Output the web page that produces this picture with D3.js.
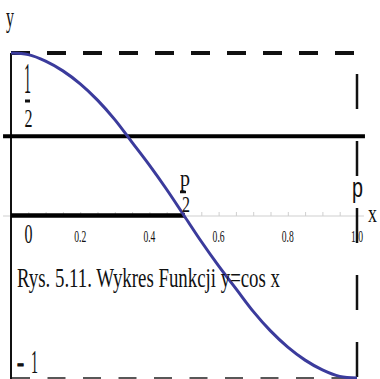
<!DOCTYPE html>
<html>
<head>
<meta charset="utf-8">
<script src="https://cdn.jsdelivr.net/npm/d3@7"></script>
<style>
  html, body { margin: 0; padding: 0; background: #fff; }
  svg { display: block; }
  text { font-family: "Liberation Serif", "Times New Roman", serif; fill: #111; }
</style>
</head>
<body>
<script>
// Sampled points of y = cos x over the plotted interval
const curveX = [0, 0.05, 0.1, 0.15, 0.2, 0.25, 0.3, 0.35, 0.4, 0.45, 0.5,
                0.55, 0.6, 0.65, 0.7, 0.75, 0.8, 0.85, 0.9, 0.95, 1.0];
const curveY = [1.00, 0.99, 0.95, 0.89, 0.81, 0.71, 0.59, 0.45, 0.31, 0.16, 0.00,
                -0.16, -0.31, -0.45, -0.59, -0.71, -0.81, -0.89, -0.95, -0.99, -1.00];

// Axis ticks
const tickValues = [0.2, 0.4, 0.6, 0.8, 1.0];
const tickLabels = ["0.2", "0.4", "0.6", "0.8", "1.0"];
const minorTicks = d3.range(1, 21).map(i => i / 20);

// Guide levels
const halfLevel = 0.5;
const topLevel = 1;
const bottomLevel = -1;
const rightEdge = 1.0;
const zeroSegEnd = 0.5;

const caption = "Rys. 5.11. Wykres Funkcji y=cos x";

const W = 380, H = 379;
const svg = d3.select("body").append("svg").attr("width", W).attr("height", H);

const x = d3.scaleLinear().domain([0, 1]).range([11, 357]);
const y = d3.scaleLinear().domain([-1, 1]).range([378, 53]);

// faint x axis with small upward ticks
svg.append("line")
  .attr("x1", x(-0.023)).attr("x2", x(1.02))
  .attr("y1", y(0) + 0.5).attr("y2", y(0) + 0.5)
  .attr("stroke", "#cfcfcf").attr("stroke-width", 1);
const ax = svg.append("g").attr("transform", `translate(0,${y(0) + 0.5})`)
  .call(d3.axisTop(x).tickValues(minorTicks).tickSize(4).tickFormat(""));
ax.select(".domain").remove();
ax.selectAll(".tick line").attr("stroke", "#cfcfcf");

// left solid border
svg.append("line")
  .attr("x1", x(0)).attr("x2", x(0))
  .attr("y1", y(topLevel)).attr("y2", H)
  .attr("stroke", "#111").attr("stroke-width", 2);

// top dashed line (y = 1)
svg.append("line")
  .attr("x1", x(0)).attr("x2", x(rightEdge) + 3)
  .attr("y1", y(topLevel)).attr("y2", y(topLevel))
  .attr("stroke", "#111").attr("stroke-width", 4)
  .attr("stroke-dasharray", "19 17");

// bottom dashed line (y = -1)
svg.append("line")
  .attr("x1", x(0) + 1).attr("x2", x(rightEdge))
  .attr("y1", y(bottomLevel)).attr("y2", y(bottomLevel))
  .attr("stroke", "#222").attr("stroke-width", 1.5)
  .attr("stroke-dasharray", "18 17.5");

// right dashed line (x = 1)
svg.append("line")
  .attr("x1", x(rightEdge)).attr("x2", x(rightEdge))
  .attr("y1", y(topLevel)).attr("y2", H)
  .attr("stroke", "#111").attr("stroke-width", 2.5)
  .attr("stroke-dasharray", "35 32")
  .attr("stroke-dashoffset", 46);

// horizontal line at y = 1/2
svg.append("line")
  .attr("x1", x(-0.023)).attr("x2", x(1.023))
  .attr("y1", y(halfLevel) + 2).attr("y2", y(halfLevel) + 2)
  .attr("stroke", "#000").attr("stroke-width", 4);

// thick segment on the x axis from 0 to pi/2
svg.append("line")
  .attr("x1", x(0)).attr("x2", x(zeroSegEnd) + 1)
  .attr("y1", y(0)).attr("y2", y(0))
  .attr("stroke", "#000").attr("stroke-width", 4.5);

// the cosine curve
const line = d3.line()
  .x((d, i) => x(curveX[i]))
  .y(d => y(d))
  .curve(d3.curveCatmullRom);
svg.append("path")
  .datum(curveY)
  .attr("d", line)
  .attr("fill", "none")
  .attr("stroke", "#3b3b9c")
  .attr("stroke-width", 3)
  .attr("stroke-linejoin", "round");

// helper for narrow text
function label(str, px, base, size, width, anchor, family) {
  const t = svg.append("text")
    .attr("x", px).attr("y", base)
    .attr("font-size", size)
    .attr("text-anchor", anchor || "start")
    .text(str);
  if (width) t.attr("textLength", width).attr("lengthAdjust", "spacingAndGlyphs");
  if (family) t.style("font-family", family);
  return t;
}
function bar(x1, x2, yy, w) {
  svg.append("line").attr("x1", x1).attr("x2", x2).attr("y1", yy).attr("y2", yy)
    .attr("stroke", "#111").attr("stroke-width", w);
}

// tick labels
tickValues.forEach((v, i) => label(tickLabels[i], x(v), 242, 17, 12, "middle"));
label("0", 24.5, 243, 27, 8);

// axis names
label("y", 6, 27, 30, 8);
label("x", 368, 222, 26, 9);

// 1/2 on the y axis
label("1", 24, 93, 44, 7);
bar(25, 30, 101, 3);
label("2", 24.5, 127, 26, 8);

// pi/2 and pi on the x axis
label("p", 180, 186, 24, 10);
bar(180, 186, 192, 2.5);
label("2", 182, 212, 24, 8);
label("p", 352, 197, 28, 11, "start", "'Liberation Sans', Arial, sans-serif");

// -1 on the y axis
label("-", 17, 372, 30, 7).attr("stroke", "#111").attr("stroke-width", 1.2);
label("1", 31, 373, 34, 7);

// caption
label(caption, 17, 287, 28, 263);
</script>
</body>
</html>
